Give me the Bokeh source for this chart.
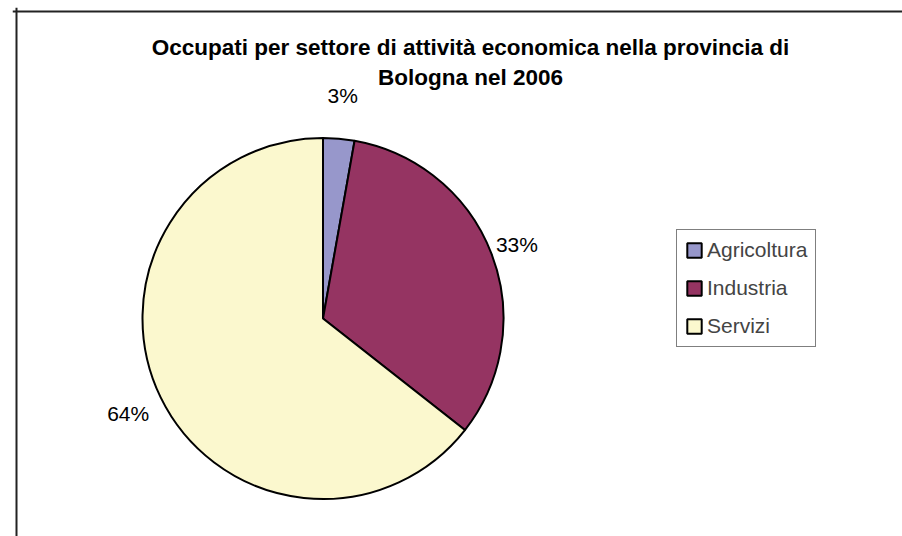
import math
from bokeh.plotting import figure
from bokeh.models import ColumnDataSource, Label, Legend, LegendItem, Range1d, Span
from bokeh.core.properties import value
from bokeh.embed import file_html
from bokeh.resources import INLINE

# ---- data ----
sectors = ["Agricoltura", "Industria", "Servizi"]
shares = [2.8, 32.8, 64.4]
title_lines = ["Occupati per settore di attività economica nella provincia di",
               "Bologna nel 2006"]

# ---- styles / layout ----
colors = ["#9797CB", "#953462", "#FBF8CE"]
label_r = [1.24, 1.15, 1.20]
FONT = "Liberation Sans"
W, H = 902, 536
ML, MT = 12, 7
R_PX = 180.5
CX, CY = 322.5, 318.0  # pie centre in page px

fx0, fy0 = ML, MT
fx1, fy1 = W, H

def dx(px):
    return (px - CX) / R_PX

def dy(py):
    return (CY - py) / R_PX

total = sum(shares)
starts, ends, mids = [], [], []
acc = 0.0
for s in shares:
    a0 = math.pi / 2 - 2 * math.pi * acc / total
    acc += s
    a1 = math.pi / 2 - 2 * math.pi * acc / total
    starts.append(a0)
    ends.append(a1)
    mids.append((a0 + a1) / 2)

src = ColumnDataSource(dict(sector=sectors, share=shares, color=colors,
                            start=starts, end=ends))

p = figure(width=W, height=H, output_backend="svg", toolbar_location=None,
           x_range=Range1d(dx(fx0), dx(fx1)), y_range=Range1d(dy(fy1), dy(fy0)),
           min_border_left=ML, min_border_top=MT, min_border_right=0, min_border_bottom=0)
p.xaxis.visible = False
p.yaxis.visible = False
p.grid.visible = False
p.outline_line_color = None
p.background_fill_color = "white"
p.border_fill_color = "white"

# chart-area border (left and top edges; right/bottom fall outside the window)
p.add_layout(Span(location=dx(16), dimension="height", line_color="#222222", line_width=2))
p.add_layout(Span(location=dy(11), dimension="width", line_color="#222222", line_width=2))

r = p.wedge(x=0, y=0, radius=1, start_angle="start", end_angle="end",
            direction="clock", fill_color="color", line_color="black",
            line_width=2, source=src)

lx = [label_r[i] * math.cos(mids[i]) for i in range(3)]
ly = [label_r[i] * math.sin(mids[i]) for i in range(3)]
lt = [f"{round(100 * s / total)}%" for s in shares]
p.text(x=lx, y=ly, text=lt, text_align="center", text_baseline="middle",
       text_font=value(FONT), text_font_size="21px", text_color="black")

for t, base in zip(title_lines, [47, 77]):
    p.add_layout(Label(x=dx(470), y=dy(base), text=t, text_align="center",
                       text_baseline="alphabetic", text_font=FONT,
                       text_font_size="22.5px", text_font_style="bold",
                       text_color="black"))

legend = Legend(items=[LegendItem(label=sectors[i], renderers=[r], index=i) for i in range(3)],
                location=(676 - fx0, fy1 - 347),
                label_text_font=FONT, label_text_font_size="21px",
                glyph_width=18, glyph_height=18, label_standoff=4,
                spacing=14, padding=8, margin=0,
                border_line_color="black", border_line_width=1,
                background_fill_alpha=1)
p.add_layout(legend)

open("out.html", "w").write(file_html(p, INLINE))
